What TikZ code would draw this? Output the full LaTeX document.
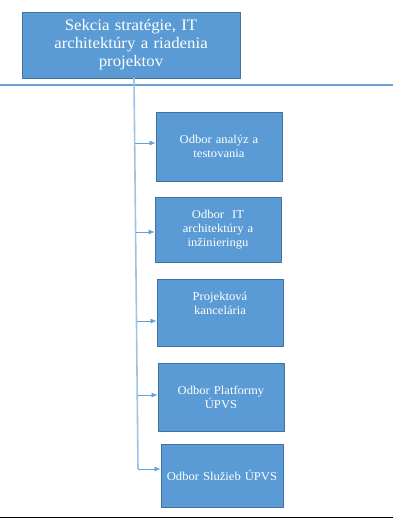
\documentclass[tikz,border=0pt]{standalone}
\usepackage{fontspec}
\setmainfont{Liberation Serif}[FakeStretch=1.05]
\usetikzlibrary{arrows.meta}
\definecolor{boxblue}{HTML}{5B9BD5}
\definecolor{boxedge}{HTML}{41719C}
\definecolor{linkblue}{HTML}{6A9FD4}
\definecolor{trunkblue}{HTML}{9DC3E6}
\tikzset{
	unit/.style={draw=boxedge,fill=boxblue,line width=0.8pt,text=white,align=center,
		minimum width=126pt,text width=116pt,inner sep=0pt,
		font=\fontsize{12}{14}\selectfont},
	head/.style={unit,minimum width=218pt,minimum height=66pt,text width=206pt,
		font=\fontsize{16}{18}\selectfont},
	link/.style={draw=linkblue,line width=0.7pt,-{Latex[length=6pt,width=5pt]}}
}
\begin{document}
\begin{tikzpicture}[x=1pt,y=-1pt,line join=round]
		\useasboundingbox (0,0) rectangle (393,526);
		\draw[linkblue,line width=1.2pt] (0,85)--(393,85);
		\draw[black,line width=1pt] (0,517)--(393,517);
		\node[head] (sekcia) at (131,45) {Sekcia stratégie, IT\\ architektúry a riadenia\\ projektov};
		\node[unit,minimum height=69pt] (analyzy) at (219,146.5) {Odbor analýz a\\ testovania};
		\node[unit,minimum height=65pt] (archit) at (218,229.5) {Odbor~ IT\\ architektúry a\\ inžinieringu};
		\node[unit,minimum height=67pt] (kancel) at (220,312.5) {Projektová\\ kancelária\\ \strut};
		\node[unit,minimum height=68pt] (platf) at (221,397) {Odbor Platformy\\ ÚPVS};
		\node[unit,minimum height=63pt,minimum width=122pt] (sluzby) at (222,475.5) {Odbor Služieb ÚPVS};
		% kmen
		\coordinate (t0) at (134,78);
		\coordinate (t1) at (135,143);
		\coordinate (t2) at (136,232);
		\coordinate (t3) at (137,321);
		\coordinate (t4) at (137.5,395);
		\coordinate (t5) at (138,469);
		\draw[trunkblue,line width=1.6pt] (t0)--(t5);
		\draw[link] (t1)--(analyzy.west |- t1);
		\draw[link] (t2)--(archit.west |- t2);
		\draw[link] (t3)--(kancel.west |- t3);
		\draw[link] (t4)--(platf.west |- t4);
		\draw[link] (t5)--(sluzby.west |- t5);
	\end{tikzpicture}
\end{document}
